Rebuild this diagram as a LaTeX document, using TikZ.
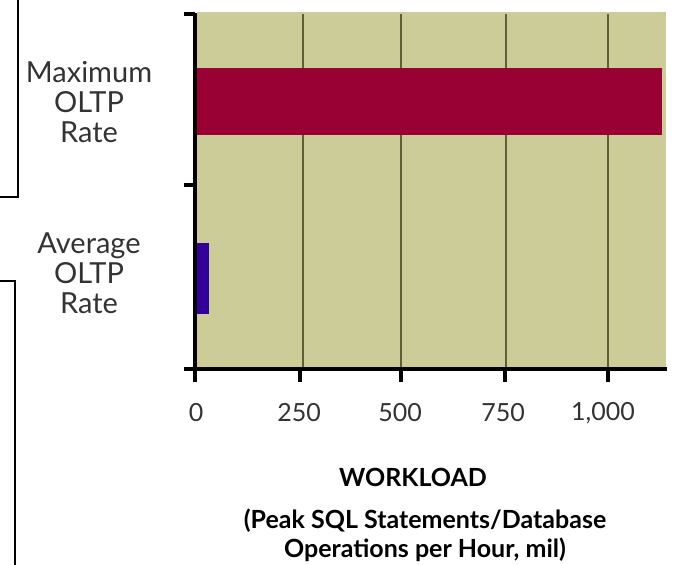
\documentclass[tikz,border=0pt]{standalone}
\usepackage{fontspec}
\setmainfont{Lato}
\usepackage{xcolor}
\usepackage{tikz}
\usetikzlibrary{positioning}

\definecolor{plotbg}{HTML}{CCCC99}
\definecolor{maxbar}{HTML}{990033}
\definecolor{avgbar}{HTML}{330099}
\definecolor{gridcol}{HTML}{5F5F3A}
\definecolor{labelcol}{HTML}{333333}

\begin{document}
\begin{tikzpicture}[x=1pt,y=-1pt,
    catlabel/.style={align=center,text=labelcol,font=\fontsize{29}{30}\selectfont},
    ticklabel/.style={text=labelcol,font=\fontsize{25}{25}\selectfont},
    axistitle/.style={align=center,font=\bfseries\fontsize{25}{29}\selectfont}]
    \useasboundingbox (0,0) rectangle (673,565);
    \fill[plotbg] (197,12) rectangle (666,368);
    \foreach \x in {303,401,506,608}
      \draw[gridcol,line width=1.5pt] (\x,14) -- (\x,368);
    \fill[maxbar] (197,68) rectangle (662,135);
    \fill[avgbar] (197,243) rectangle (209,314);
    % axes
    \draw[line width=3.5pt] (195,13) -- (195,369) -- (667,369);
    \foreach \y in {14,185,369}
      \draw[line width=3.5pt] (184,\y) -- (195,\y);
    \foreach \x in {195,300,401,505,608}
      \draw[line width=3.5pt] (\x,369) -- (\x,382);
    \node[catlabel] (maxrate) at (89,102) {Maximum\\OLTP\\Rate};
    \node[catlabel] (avgrate) at (89,273) {Average\\OLTP\\Rate};
    \foreach \v/\x in {0/196,250/299,500/400,750/503,{1,000}/603}
      \node[ticklabel] (t\x) at (\x,413) {\v};
    \node[axistitle] (wl) at (413,477) {WORKLOAD};
    \node[axistitle] (wlsub) at (425,535) {(Peak SQL Statements/Database\\Operations per Hour, mil)};
    % frame pieces on the left
    \draw[line width=1.5pt] (0,197) -- (18,197) -- (18,0);
    \draw[line width=1.5pt] (0,281) -- (15,281) -- (15,565);
\end{tikzpicture}
\end{document}
